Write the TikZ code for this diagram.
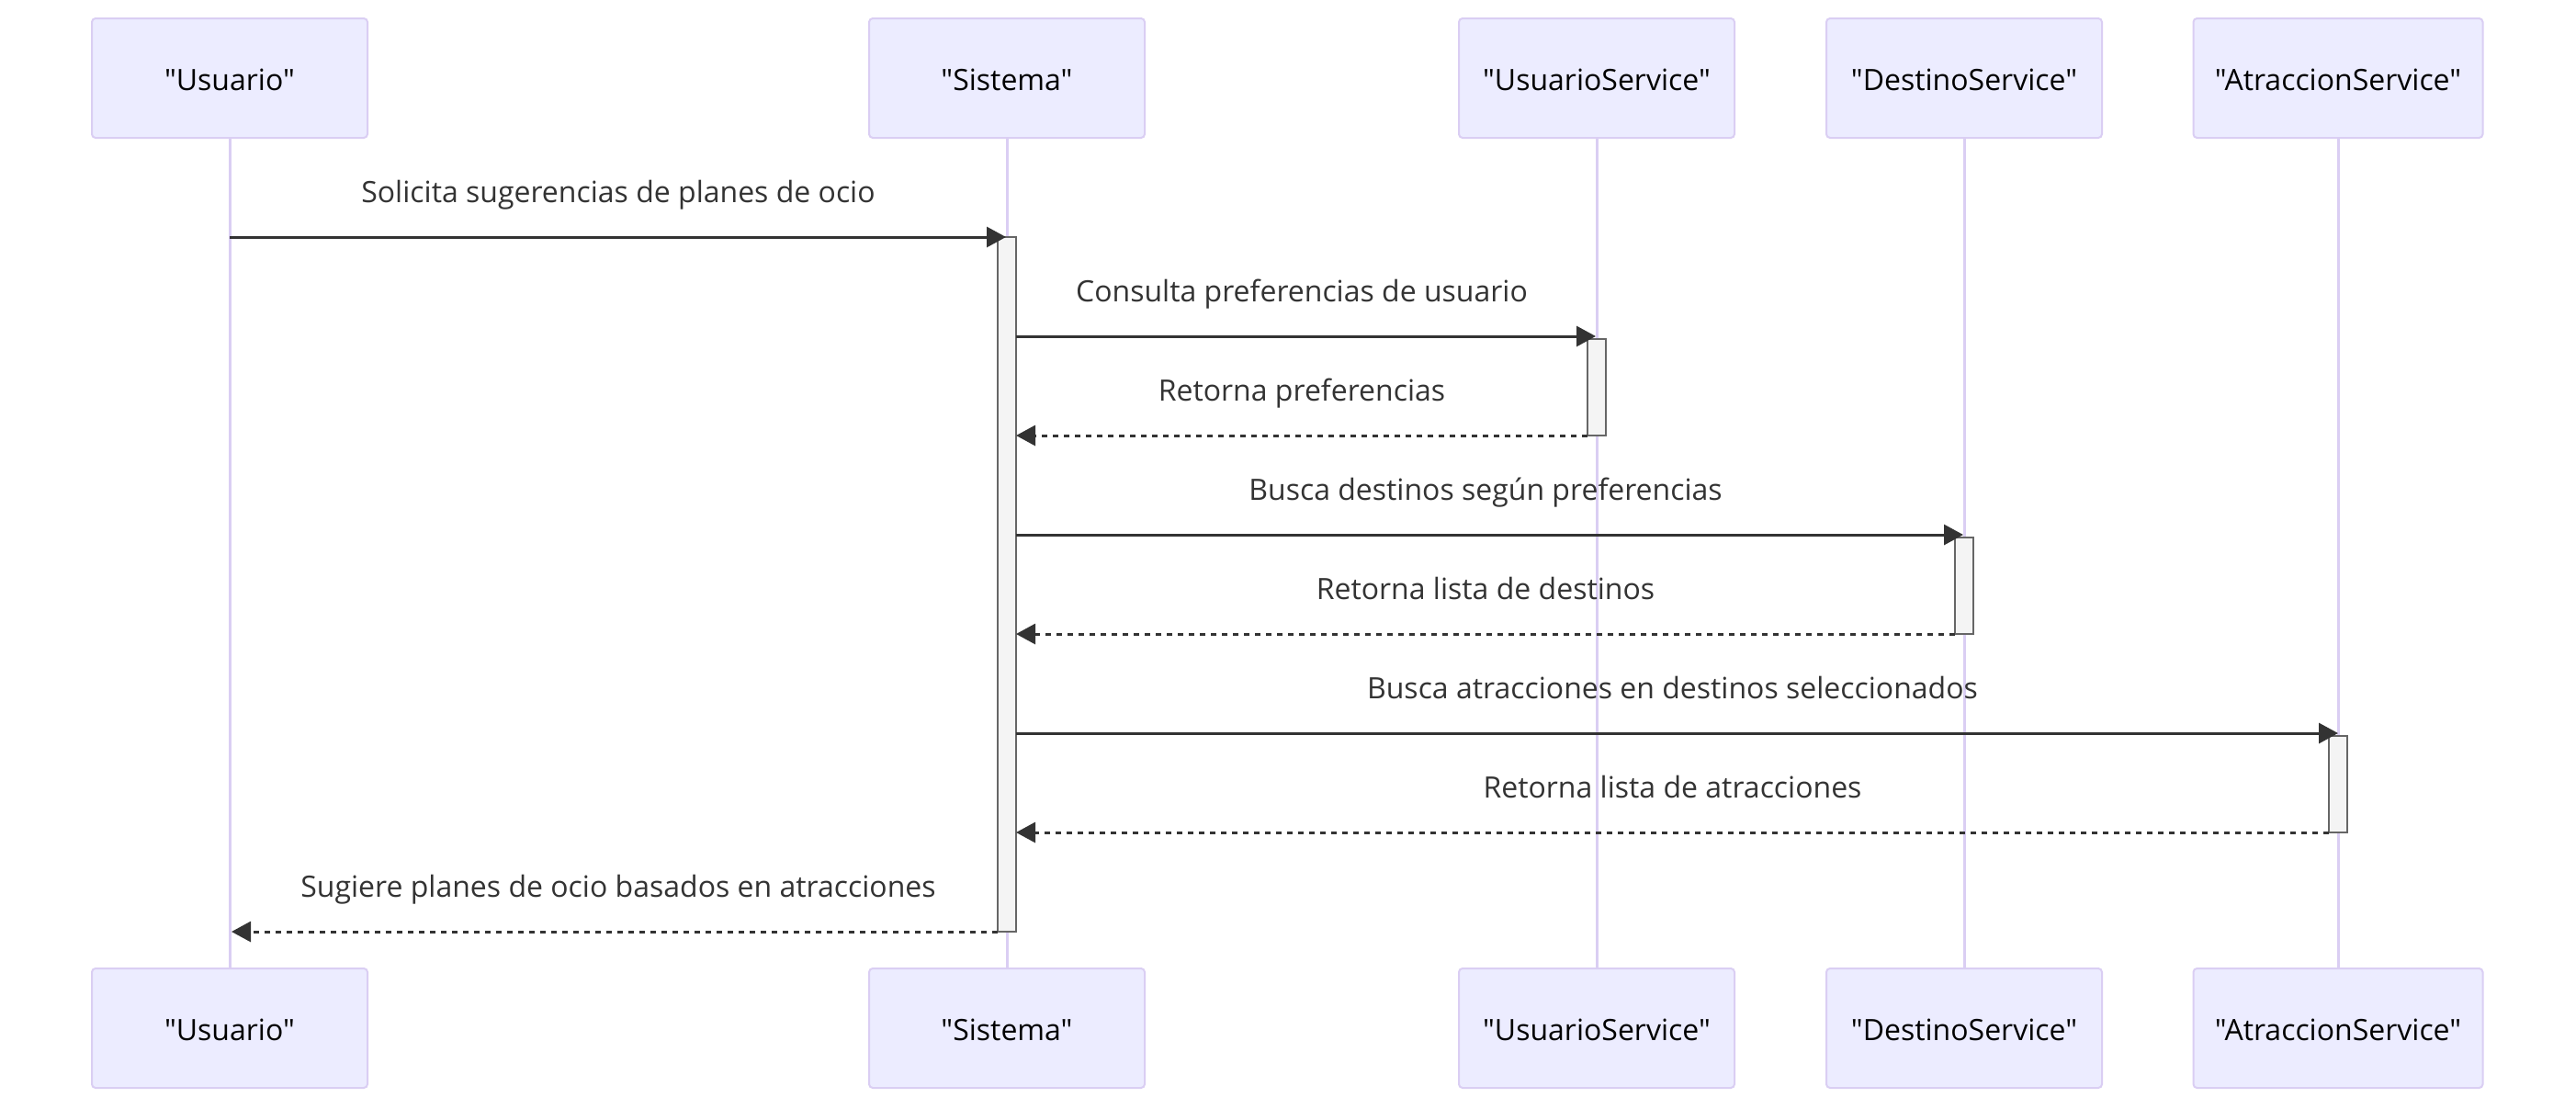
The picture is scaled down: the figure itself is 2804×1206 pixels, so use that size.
\documentclass[tikz,border=0pt]{standalone}
\usepackage{fontspec}
\setmainfont{Open Sans}[Ligatures=TeXOff]
\usetikzlibrary{arrows.meta}
\definecolor{actfill}{HTML}{ECECFF}
\definecolor{actline}{HTML}{DACEF3}
\definecolor{msgc}{HTML}{333333}
\definecolor{actvfill}{HTML}{F4F4F4}
\definecolor{actvline}{HTML}{666666}
\begin{document}
\begin{tikzpicture}[x=0.5pt,y=-0.5pt,
 actor/.style={draw=actline, fill=actfill, line width=1pt, rounded corners=2pt,
   minimum width=150pt, minimum height=65pt, inner sep=0pt,
   font=\fontsize{16}{19}\selectfont, text=black, text height=13pt, text depth=0pt},
 wideactor/.style={actor, minimum width=157.5pt},
 lifeline/.style={draw=actline, line width=1.5pt},
 msg/.style={draw=msgc, line width=1.5pt, -{Triangle[length=10.5pt,width=11pt]}},
 ret/.style={msg, dash pattern=on 3pt off 3pt},
 lbl/.style={anchor=base, text=msgc, font=\fontsize{16}{19}\selectfont, inner sep=0pt},
 actv/.style={draw=actvline, fill=actvfill, line width=1pt}
]
\useasboundingbox[fill=white] (0,0) rectangle (2804,1206);

% actors
\node[actor] (uT) at (250,85) {"Usuario"};
\node[actor] (sT) at (1096,85) {"Sistema"};
\node[actor] (usT) at (1738,85) {"UsuarioService"};
\node[actor] (dsT) at (2138,85) {"DestinoService"};
\node[wideactor] (asT) at (2545,85) {"AtraccionService"};
\node[actor] (uB) at (250,1119) {"Usuario"};
\node[actor] (sB) at (1096,1119) {"Sistema"};
\node[actor] (usB) at (1738,1119) {"UsuarioService"};
\node[actor] (dsB) at (2138,1119) {"DestinoService"};
\node[wideactor] (asB) at (2545,1119) {"AtraccionService"};

% lifelines
\draw[lifeline] (uT.south) -- (uB.north);
\draw[lifeline] (sT.south) -- (sB.north);
\draw[lifeline] (usT.south) -- (usB.north);
\draw[lifeline] (dsT.south) -- (dsB.north);
\draw[lifeline] (asT.south) -- (asB.north);

% activations
\draw[actv] (1086,258) rectangle (1106,1014);
\draw[actv] (1728,369) rectangle (1748,474);
\draw[actv] (2128,585) rectangle (2148,690);
\draw[actv] (2535,801) rectangle (2555,906);

% message end points
\coordinate (m1a) at (250,258);  \coordinate (m1b) at (1095,258);
\coordinate (m2a) at (1106,366); \coordinate (m2b) at (1737,366);
\coordinate (m3a) at (1728,474); \coordinate (m3b) at (1106,474);
\coordinate (m4a) at (1106,582); \coordinate (m4b) at (2137,582);
\coordinate (m5a) at (2128,690); \coordinate (m5b) at (1106,690);
\coordinate (m6a) at (1106,798); \coordinate (m6b) at (2545,798);
\coordinate (m7a) at (2535,906); \coordinate (m7b) at (1106,906);
\coordinate (m8a) at (1086,1014); \coordinate (m8b) at (252,1014);

\draw[msg] (m1a) -- (m1b);
\draw[msg] (m2a) -- (m2b);
\draw[ret] (m3a) -- (m3b);
\draw[msg] (m4a) -- (m4b);
\draw[ret] (m5a) -- (m5b);
\draw[msg] (m6a) -- (m6b);
\draw[ret] (m7a) -- (m7b);
\draw[ret] (m8a) -- (m8b);

% labels
\node[lbl] (l1) at (673,220) {Solicita sugerencias de planes de ocio};
\node[lbl] (l2) at (1417,328) {Consulta preferencias de usuario};
\node[lbl] (l3) at (1417,436) {Retorna preferencias};
\node[lbl] (l4) at (1617,544) {Busca destinos según preferencias};
\node[lbl] (l5) at (1617,652) {Retorna lista de destinos};
\node[lbl] (l6) at (1820.5,760) {Busca atracciones en destinos seleccionados};
\node[lbl] (l7) at (1820.5,868) {Retorna lista de atracciones};
\node[lbl] (l8) at (673,976) {Sugiere planes de ocio basados en atracciones};
\end{tikzpicture}
\end{document}
